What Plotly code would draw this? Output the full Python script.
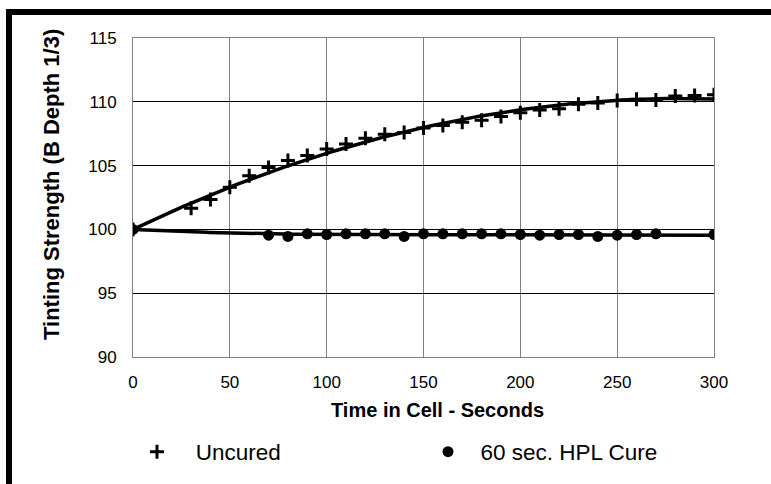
import numpy as np
import plotly.graph_objects as go

# ---- data ----
uncured_t = [0, 30, 40, 50, 60, 70, 80, 90, 100, 110, 120, 130, 140, 150, 160, 170, 180,
             190, 200, 210, 220, 230, 240, 250, 260, 270, 280, 290, 300]
uncured_v = [100.0, 101.65, 102.35, 103.3, 104.2, 104.85, 105.4, 105.8, 106.3, 106.7, 107.15,
             107.45, 107.6, 107.95, 108.15, 108.4, 108.55, 108.85, 109.15, 109.35, 109.45,
             109.8, 109.9, 110.1, 110.2, 110.15, 110.45, 110.5, 110.55]

cured_t = [0, 70, 80, 90, 100, 110, 120, 130, 140, 150, 160, 170, 180, 190, 200, 210, 220,
           230, 240, 250, 260, 270, 300]
cured_v = [100.0, 99.55, 99.45, 99.65, 99.6, 99.65, 99.65, 99.65, 99.45, 99.65, 99.65, 99.65,
           99.65, 99.65, 99.6, 99.55, 99.6, 99.6, 99.45, 99.55, 99.6, 99.65, 99.6]

x_ticks = [0, 50, 100, 150, 200, 250, 300]
y_ticks = [90, 95, 100, 105, 110, 115]

series_names = ["Uncured", "60 sec. HPL Cure"]
x_title = "Time in Cell - Seconds"
y_title = "Tinting Strength (B Depth 1/3)"


def trend(t, v, deg):
    """Least-squares polynomial trend with intercept fixed at the first value."""
    t = np.asarray(t, float)
    v = np.asarray(v, float)
    A = np.vstack([t ** k for k in range(1, deg + 1)]).T
    coef, *_ = np.linalg.lstsq(A, v - v[0], rcond=None)
    tt = np.linspace(t.min(), t.max(), 301)
    return tt, v[0] + sum(c * tt ** (k + 1) for k, c in enumerate(coef))


FONT = "Arial, Liberation Sans, sans-serif"
NB = "\u00a0"

fig = go.Figure()

ut, uv = trend(uncured_t, uncured_v, 2)
ct, cv = trend(cured_t, cured_v, 3)

fig.add_trace(go.Scatter(x=ut, y=uv, mode="lines", line=dict(color="black", width=3.5),
                         showlegend=False, hoverinfo="skip"))
fig.add_trace(go.Scatter(x=ct, y=cv, mode="lines", line=dict(color="black", width=3.5),
                         showlegend=False, hoverinfo="skip"))

fig.add_trace(go.Scatter(x=uncured_t, y=uncured_v, mode="markers",
                         name=NB * 3 + series_names[0],
                         marker=dict(symbol="cross-thin", size=10, color="black",
                                     line=dict(color="black", width=3))))
fig.add_trace(go.Scatter(x=cured_t, y=cured_v, mode="markers",
                         name=NB * 2 + series_names[1],
                         marker=dict(symbol="circle", size=11, color="black",
                                     line=dict(width=0))))

# plot area in px: x 133..714, y 38..357
L, R, T, B = 133, 714, 38, 357
W, H = R - L, B - T


def px(xp):
    return (xp - L) / W


def py(yp):
    return (B - yp) / H


shapes = [
    dict(type="rect", xref="paper", yref="paper", x0=px(6), x1=px(775), y0=py(15), y1=py(9),
         fillcolor="black", line=dict(width=0), layer="above"),
    dict(type="rect", xref="paper", yref="paper", x0=px(6), x1=px(12), y0=py(490), y1=py(9),
         fillcolor="black", line=dict(width=0), layer="above"),
]

annotations = [
    dict(text="<b>" + x_title + "</b>", xref="paper", yref="paper", x=px(437), y=py(410),
         xanchor="center", yanchor="middle", showarrow=False, font=dict(size=20)),
    dict(text="<b>" + y_title + "</b>", xref="paper", yref="paper", x=px(51), y=py(185),
         xanchor="center", yanchor="middle", showarrow=False, textangle=-90,
         font=dict(size=22)),
]

fig.update_layout(
    width=771, height=484,
    margin=dict(l=L, r=771 - R, t=T, b=484 - B, pad=0, autoexpand=False),
    paper_bgcolor="white", plot_bgcolor="white",
    font=dict(family=FONT, color="black", size=17),
    shapes=shapes,
    annotations=annotations,
    showlegend=True,
    legend=dict(orientation="h", x=px(137), xanchor="left", y=py(452), yanchor="middle",
                font=dict(size=22.5, family=FONT), entrywidth=246, itemwidth=30,
                bgcolor="rgba(0,0,0,0)"),
    xaxis=dict(range=[0, 300], tickvals=x_ticks, ticks="", showgrid=True,
               gridcolor="#808080", gridwidth=1, zeroline=False,
               showline=True, linecolor="#808080", linewidth=1, mirror=True,
               tickfont=dict(size=17), ticklabelstandoff=10),
    yaxis=dict(range=[90, 115], tickvals=y_ticks, ticks="", showgrid=True,
               gridcolor="black", gridwidth=1, zeroline=False,
               showline=True, linecolor="#808080", linewidth=1, mirror=True,
               tickfont=dict(size=17), ticklabelstandoff=12),
)

fig.write_html("out.html")
